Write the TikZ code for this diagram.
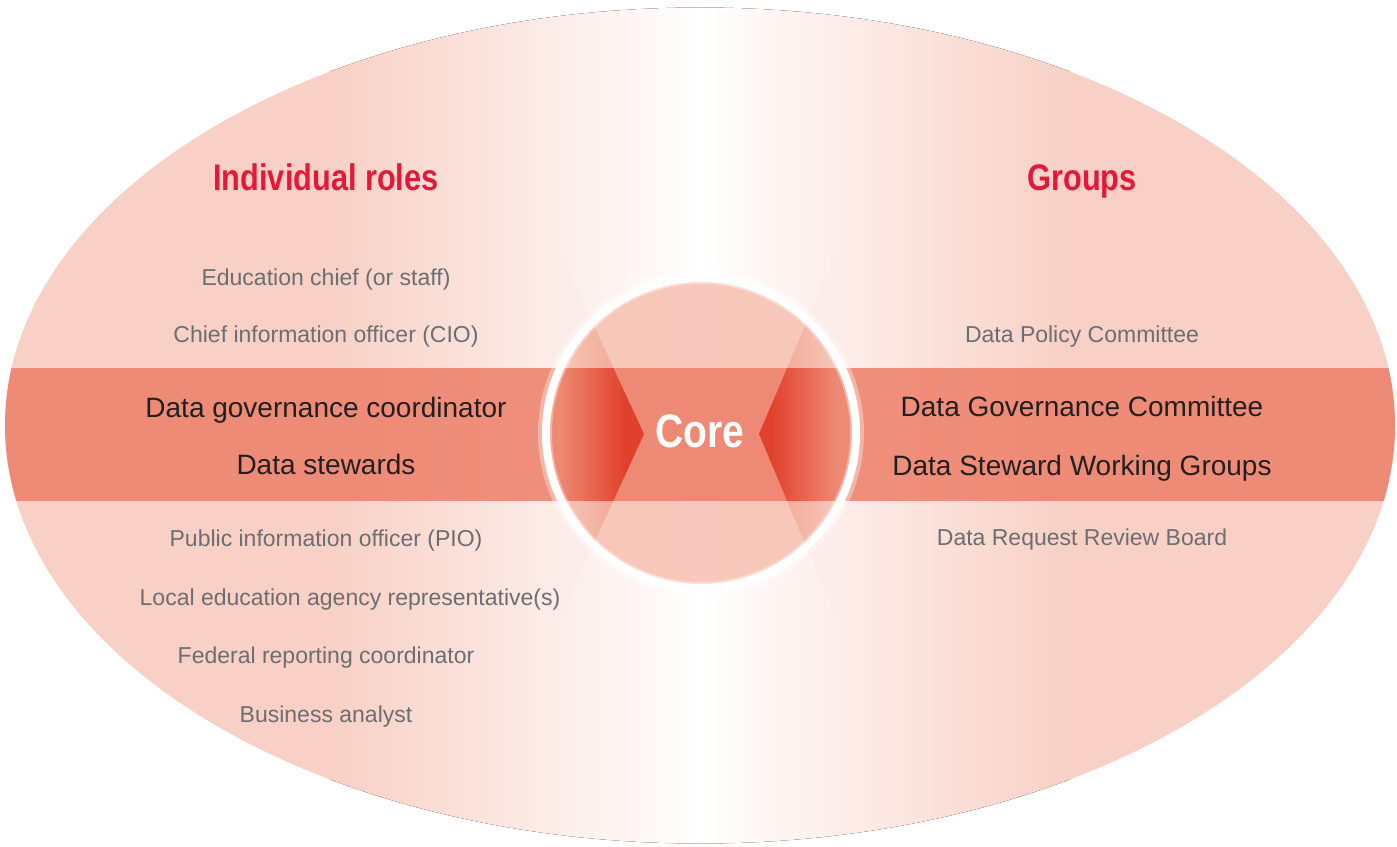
\documentclass[tikz,border=0pt]{standalone}
\usepackage{fontspec}
\setmainfont{Liberation Sans}
\newfontfamily\headfont[FakeStretch=0.83]{Liberation Sans}
\usetikzlibrary{fadings}

\definecolor{ovalpink}{HTML}{F8D0C5}
\definecolor{bandred}{HTML}{ED7F69}
\definecolor{corepink}{HTML}{F7C3B4}
\definecolor{chevburn}{RGB}{140,158,166}
\definecolor{headred}{HTML}{E31937}
\definecolor{itemgray}{HTML}{6D6E71}
\definecolor{itemblack}{HTML}{231F20}

\tikzfading[name=fade in east, left color=transparent!100, right color=transparent!0]
\tikzfading[name=fade in west, left color=transparent!0, right color=transparent!100]

\tikzset{
  grouphead/.style={anchor=base, text=headred, font=\headfont\bfseries\fontsize{37}{42}\selectfont},
  itemsmall/.style={anchor=base, text=itemgray, font=\fontsize{23}{27}\selectfont},
  itembig/.style={anchor=base, text=itemblack, font=\fontsize{28}{32}\selectfont},
  corelabel/.style={anchor=base, text=white, font=\headfont\bfseries\fontsize{47}{54}\selectfont},
  chevron/.style={chevburn, blend mode=color burn, fit fading=false},
}

\begin{document}
\begin{tikzpicture}[x=1pt,y=-1pt]
\useasboundingbox (0,0) rectangle (1397,846);
\begin{scope}
\clip (700,425.5) ellipse [x radius=695, y radius=418];
\fill[ovalpink] (0,0) rectangle (1397,846);
\fill[left color=ovalpink, right color=white] (330,0) rectangle (700,846);
\fill[left color=white, right color=ovalpink] (700,0) rectangle (1070,846);
\fill[corepink, opacity=0.9] (701,433) circle [radius=152];
\fill[bandred, opacity=0.85] (0,368) rectangle (1397,501);
\end{scope}
\draw[white, line width=14, opacity=0.35] (701,433) circle [radius=156];
\draw[white, line width=8] (701,433) circle [radius=155];
\fill[chevron, path fading=fade in east,
      fading transform={shift={(593,435)}, xscale=1.3, yscale=4}]
    (560,253) -- (644,434) -- (560,617) -- cycle;
\fill[chevron, path fading=fade in west,
      fading transform={shift={(803,435)}, xscale=1.3, yscale=4}]
    (836,253) -- (759,434) -- (836,617) -- cycle;

\node[grouphead] (roles)  at ( 326,190) {Individual roles};
\node[grouphead] (groups) at (1082,190) {Groups};

\node[itemsmall] (chief)    at (326,285) {Education chief (or staff)};
\node[itemsmall] (cio)      at (326,342) {Chief information officer (CIO)};
\node[itembig]   (coord)    at (326,417) {Data governance coordinator};
\node[itembig]   (stewards) at (326,474) {Data stewards};
\node[itemsmall] (pio)      at (326,546) {Public information officer (PIO)};
\node[itemsmall] (lea)      at (350,605) {Local education agency representative(s)};
\node[itemsmall] (federal)  at (326,663) {Federal reporting coordinator};
\node[itemsmall] (analyst)  at (326,722) {Business analyst};

\node[itemsmall] (policy)   at (1082,342) {Data Policy Committee};
\node[itembig]   (dgc)      at (1082,416) {Data Governance Committee};
\node[itembig]   (working)  at (1082,475) {Data Steward Working Groups};
\node[itemsmall] (review)   at (1082,545) {Data Request Review Board};

\node[corelabel] (core) at (700,447) {Core};
\end{tikzpicture}
\end{document}
